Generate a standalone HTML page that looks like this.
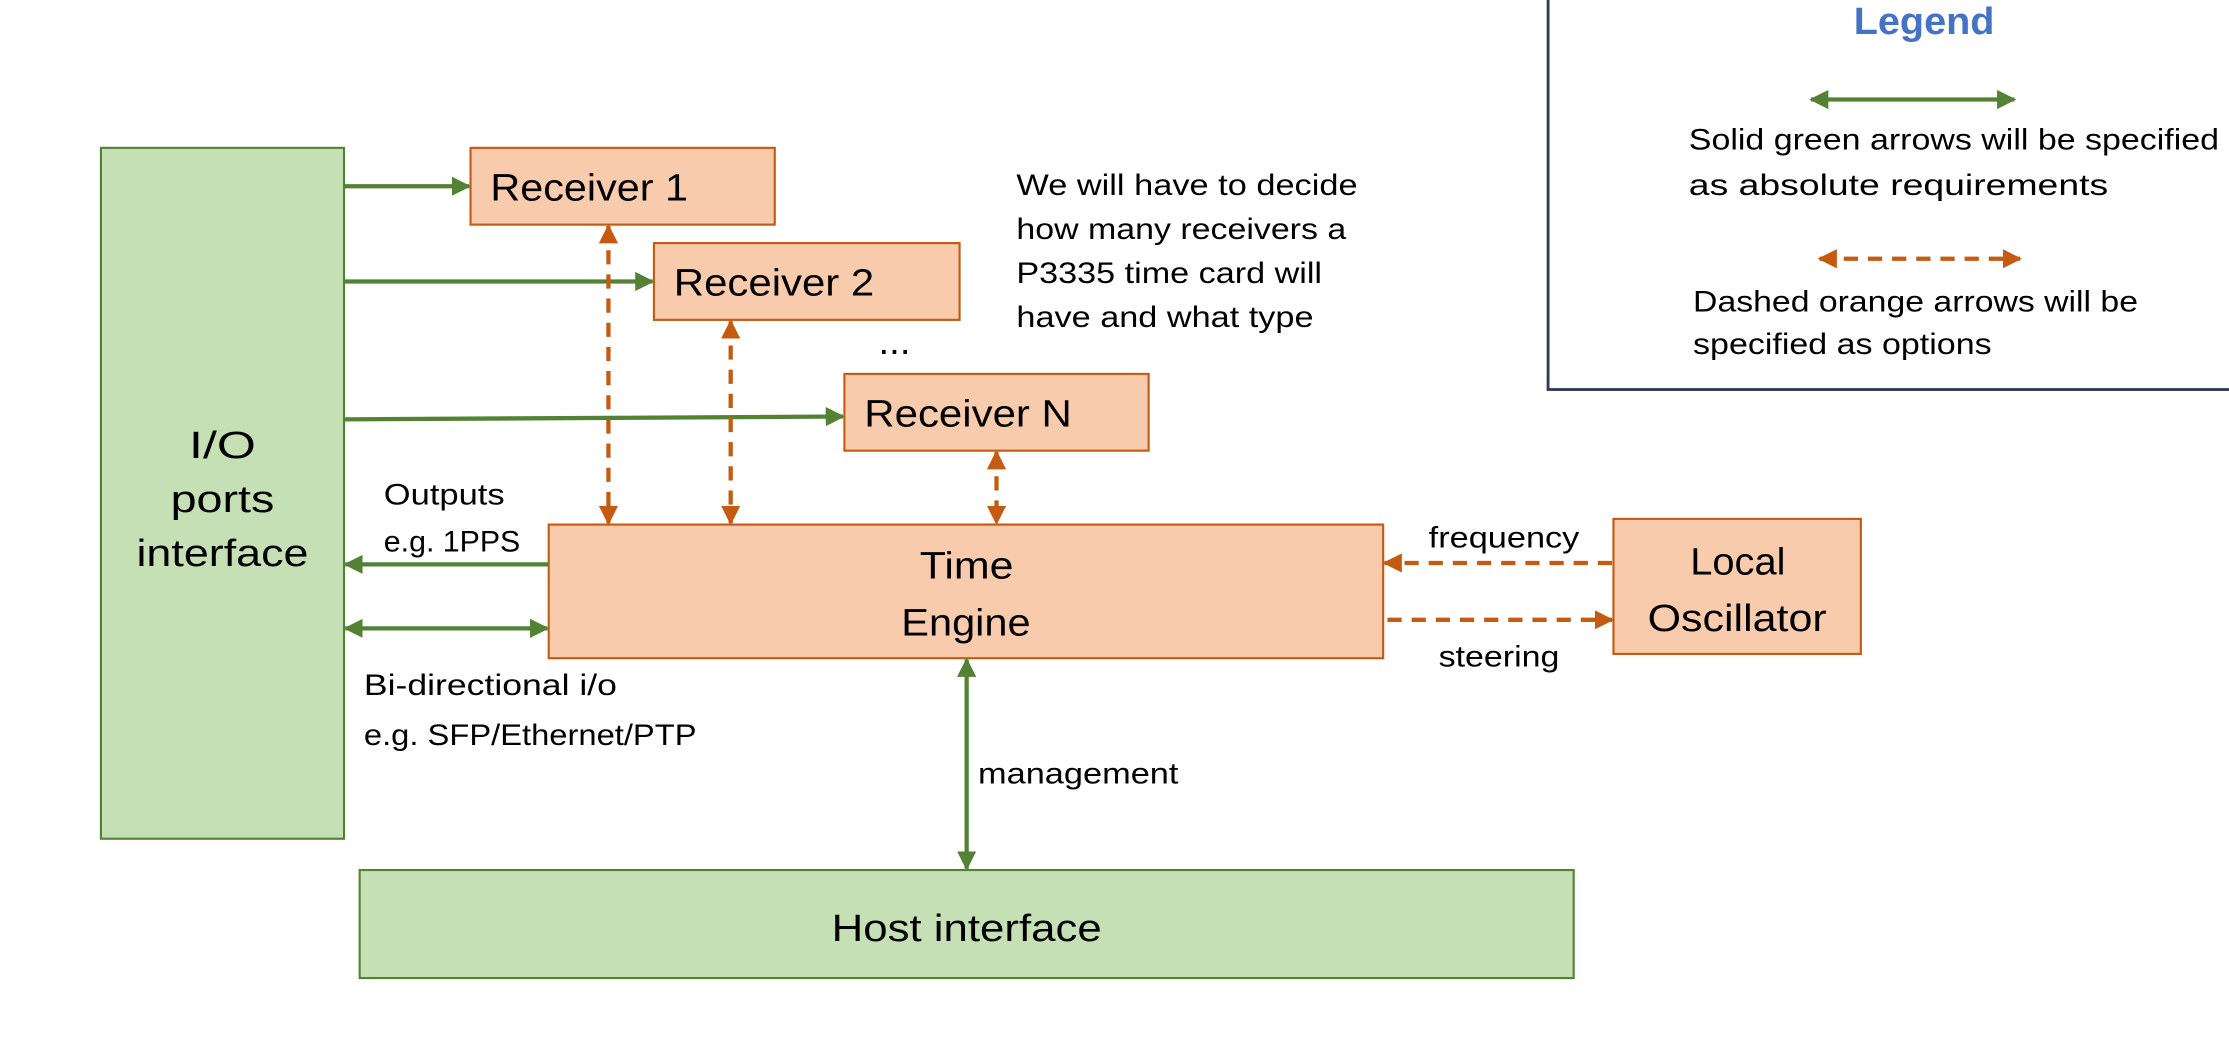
<!DOCTYPE html>
<html><head><meta charset="utf-8"><style>html,body{margin:0;padding:0;background:#fff}svg{display:block}</style></head><body>
<svg width="2229" height="1050" viewBox="0 0 1568 738.6" xmlns="http://www.w3.org/2000/svg" font-family="Liberation Sans, sans-serif" fill="#000">
<defs>
<marker id="g" viewBox="0 0 10 10" refX="9" refY="5" markerWidth="4.5" markerHeight="4.5" orient="auto-start-reverse"><path d="M0,0L10,5L0,10z" fill="#548235"/></marker>
<marker id="o" viewBox="0 0 10 10" refX="9" refY="5" markerWidth="4.5" markerHeight="4.5" orient="auto-start-reverse"><path d="M0,0L10,5L0,10z" fill="#c55a11"/></marker>
</defs>
<g stroke-width="1.5">
<rect x="71" y="104" width="171" height="486" fill="#c5e0b4" stroke="#548235"/>
<rect x="253" y="612" width="854" height="76" fill="#c5e0b4" stroke="#548235"/>
<rect x="331" y="104" width="214" height="54" fill="#f8cbad" stroke="#c55a11"/>
<rect x="460" y="171" width="215" height="54" fill="#f8cbad" stroke="#c55a11"/>
<rect x="594" y="263" width="214" height="54" fill="#f8cbad" stroke="#c55a11"/>
<rect x="386" y="369" width="587" height="94" fill="#f8cbad" stroke="#c55a11"/>
<rect x="1135" y="365" width="174" height="95" fill="#f8cbad" stroke="#c55a11"/>
<rect x="1089" y="-5" width="490" height="279" fill="none" stroke="#2f3b55" stroke-width="2"/>
</g>
<g stroke="#548235" stroke-width="3" fill="none">
<line x1="242" y1="131" x2="330" y2="131" marker-end="url(#g)"/>
<line x1="242" y1="198" x2="459" y2="198" marker-end="url(#g)"/>
<line x1="242" y1="295" x2="593" y2="293" marker-end="url(#g)"/>
<line x1="386" y1="397" x2="243" y2="397" marker-end="url(#g)"/>
<line x1="243" y1="442" x2="385" y2="442" marker-start="url(#g)" marker-end="url(#g)"/>
<line x1="680" y1="464" x2="680" y2="611" marker-start="url(#g)" marker-end="url(#g)"/>
<line x1="1274" y1="70" x2="1417" y2="70" marker-start="url(#g)" marker-end="url(#g)"/>
</g>
<g stroke="#c55a11" stroke-width="3" fill="none" stroke-dasharray="10,7">
<line x1="428" y1="159" x2="428" y2="368" marker-start="url(#o)" marker-end="url(#o)"/>
<line x1="514" y1="226" x2="514" y2="368" marker-start="url(#o)" marker-end="url(#o)"/>
<line x1="701" y1="318" x2="701" y2="368" marker-start="url(#o)" marker-end="url(#o)"/>
<line x1="1134" y1="396" x2="974" y2="396" marker-end="url(#o)"/>
<line x1="976" y1="436" x2="1134" y2="436" marker-end="url(#o)"/>
<line x1="1280" y1="182" x2="1421" y2="182" marker-start="url(#o)" marker-end="url(#o)"/>
</g>
<g font-size="27">
<text x="345" y="141" textLength="139" lengthAdjust="spacingAndGlyphs">Receiver 1</text>
<text x="474" y="208" textLength="141" lengthAdjust="spacingAndGlyphs">Receiver 2</text>
<text x="608" y="300" textLength="146" lengthAdjust="spacingAndGlyphs">Receiver N</text>
<text x="618" y="249">...</text>
<text x="647" y="407" textLength="66" lengthAdjust="spacingAndGlyphs">Time</text>
<text x="634" y="447" textLength="91" lengthAdjust="spacingAndGlyphs">Engine</text>
<text x="1189" y="404" textLength="67" lengthAdjust="spacingAndGlyphs">Local</text>
<text x="1159" y="444" textLength="126" lengthAdjust="spacingAndGlyphs">Oscillator</text>
<text x="585" y="662" textLength="190" lengthAdjust="spacingAndGlyphs">Host interface</text>
<text x="133" y="322" textLength="47" lengthAdjust="spacingAndGlyphs">I/O</text>
<text x="120" y="360" textLength="73" lengthAdjust="spacingAndGlyphs">ports</text>
<text x="96" y="398" textLength="121" lengthAdjust="spacingAndGlyphs">interface</text>
<text x="1304" y="24" textLength="99" lengthAdjust="spacingAndGlyphs" fill="#4472c4" font-weight="bold">Legend</text>
</g>
<g font-size="21">
<text x="270" y="355" textLength="85" lengthAdjust="spacingAndGlyphs">Outputs</text>
<text x="270" y="388" textLength="96" lengthAdjust="spacingAndGlyphs">e.g. 1PPS</text>
<text x="256" y="489" textLength="178" lengthAdjust="spacingAndGlyphs">Bi-directional i/o</text>
<text x="256" y="524" textLength="234" lengthAdjust="spacingAndGlyphs">e.g. SFP/Ethernet/PTP</text>
<text x="688" y="551" textLength="141" lengthAdjust="spacingAndGlyphs">management</text>
<text x="1005" y="385" textLength="106" lengthAdjust="spacingAndGlyphs">frequency</text>
<text x="1012" y="469" textLength="85" lengthAdjust="spacingAndGlyphs">steering</text>
<text x="715" y="137" textLength="240" lengthAdjust="spacingAndGlyphs">We will have to decide</text>
<text x="715" y="168" textLength="232" lengthAdjust="spacingAndGlyphs">how many receivers a</text>
<text x="715" y="199" textLength="215" lengthAdjust="spacingAndGlyphs">P3335 time card will</text>
<text x="715" y="230" textLength="209" lengthAdjust="spacingAndGlyphs">have and what type</text>
<text x="1188" y="105" textLength="373" lengthAdjust="spacingAndGlyphs">Solid green arrows will be specified</text>
<text x="1188" y="137" textLength="295" lengthAdjust="spacingAndGlyphs">as absolute requirements</text>
<text x="1191" y="219" textLength="313" lengthAdjust="spacingAndGlyphs">Dashed orange arrows will be</text>
<text x="1191" y="249" textLength="210" lengthAdjust="spacingAndGlyphs">specified as options</text>
</g>
</svg>
</body></html>
